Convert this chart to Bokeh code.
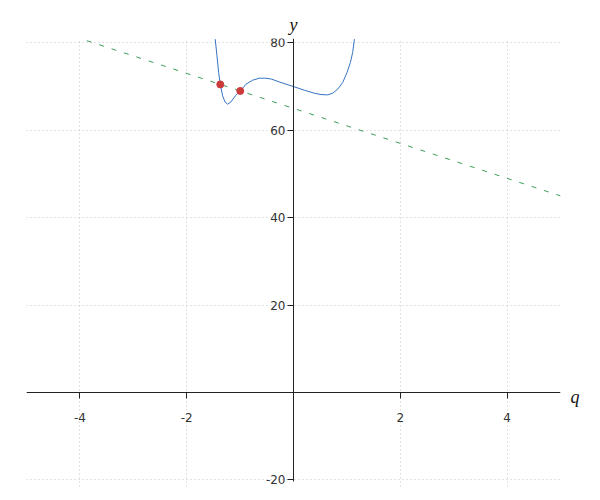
from bokeh.plotting import figure
from bokeh.models import Range1d, FixedTicker, LinearAxis
from bokeh.embed import file_html
from bokeh.resources import INLINE

curve_q = [-1.466, -1.433, -1.402, -1.371, -1.327, -1.283, -1.233, -1.171, -1.090, -0.996,
           -0.890, -0.765, -0.640, -0.515, -0.410, -0.234, 0.0, 0.203, 0.390, 0.515,
           0.640, 0.734, 0.827, 0.921, 1.002, 1.065, 1.108, 1.140]
curve_y = [80.84, 77.03, 73.21, 70.54, 67.87, 66.50, 65.97, 66.50, 67.87, 69.02,
           70.54, 71.46, 71.92, 71.92, 71.70, 70.92, 70.0, 69.17, 68.48, 68.18,
           68.10, 68.48, 69.40, 70.92, 73.21, 75.50, 77.79, 80.84]
line_q = [-3.87, 5.0]
line_y = [80.5, 45.0]
pts_q = [-1.371, -0.997]
pts_y = [70.5, 69.0]
x_ticks = [-4, -2, 2, 4]
y_ticks = [-20, 20, 40, 60, 80]

p = figure(width=588, height=494, output_backend="svg", toolbar_location=None,
           x_range=Range1d(-5, 5), y_range=Range1d(-21.5, 81),
           min_border_left=26, min_border_right=28, min_border_top=38, min_border_bottom=8)
p.outline_line_color = None
p.background_fill_color = "white"

for ax, ticks in ((p.xaxis, x_ticks), (p.yaxis, y_ticks)):
    ax.fixed_location = 0
    ax.ticker = FixedTicker(ticks=ticks, minor_ticks=[])
    ax.major_label_overrides = {t: str(t) for t in ticks}
    ax.major_tick_in = 0
    ax.major_tick_out = 6
    ax.minor_tick_in = 0
    ax.minor_tick_out = 0
    ax.axis_line_color = "#222222"
    ax.major_tick_line_color = "#222222"
    ax.major_label_text_font = "DejaVu Sans"
    ax.major_label_text_font_size = "12px"
    ax.major_label_text_color = "#333333"
p.xaxis.major_label_standoff = 14
p.yaxis.major_label_standoff = 2
p.yaxis.bounds = (-20.3, 81)

p.xgrid.ticker = FixedTicker(ticks=x_ticks, minor_ticks=[])
p.ygrid.ticker = FixedTicker(ticks=y_ticks, minor_ticks=[])
for g in (p.xgrid, p.ygrid):
    g.grid_line_color = "#c4c4c4"
    g.grid_line_dash = "1 3"
    g.grid_line_width = 1

p.line(line_q, line_y, line_color="#3c9f58", line_width=1, line_dash="5 8")
p.line(curve_q, curve_y, line_color="#3573c0", line_width=1)
p.scatter(pts_q, pts_y, size=7, fill_color="#cc3a3a", line_color="#cc3a3a")


def name_axis(label, standoff, line_height=1.2):
    return LinearAxis(ticker=FixedTicker(ticks=[], minor_ticks=[]),
                      axis_line_color=None, major_tick_line_color=None,
                      minor_tick_line_color=None, major_label_text_font_size="0px",
                      axis_label=label, axis_label_text_font="Liberation Serif",
                      axis_label_text_font_style="italic", axis_label_text_font_size="18px",
                      axis_label_text_color="#111111", axis_label_standoff=standoff,
                      axis_label_text_line_height=line_height,
                      axis_label_orientation="horizontal")


# "y" sits above the frame, centred on q = 0 (the centre of the q range)
p.add_layout(name_axis("y", 4), "above")
# "q" sits right of the frame; blank leading lines lower it to the level of the q axis
p.add_layout(name_axis("\n" * 12 + "q", 10, 1.118), "right")

open("out.html", "w").write(file_html(p, INLINE))
